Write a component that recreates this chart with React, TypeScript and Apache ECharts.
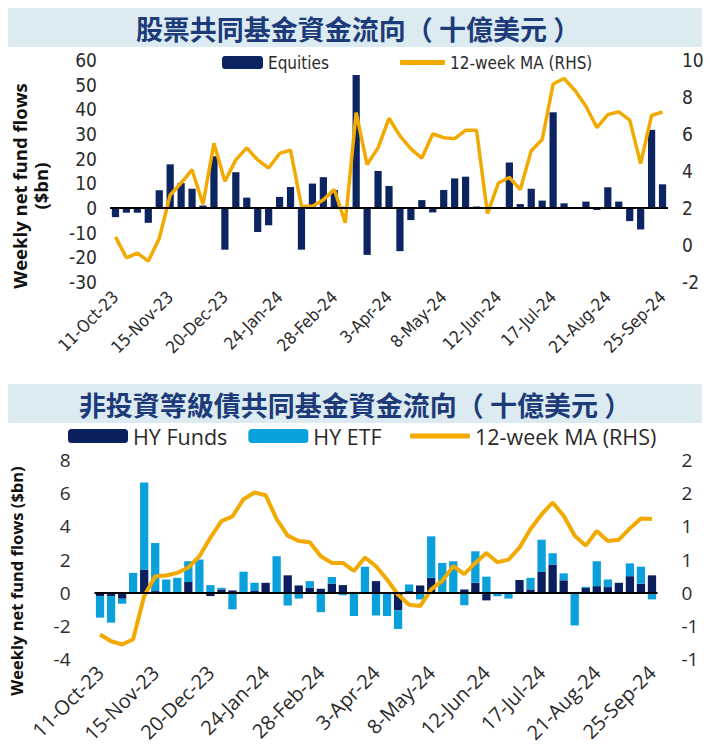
import React, { useEffect, useRef } from 'react';
import * as echarts from 'echarts';

const weeks = [
  '11-Oct-23', '18-Oct-23', '25-Oct-23', '1-Nov-23', '8-Nov-23', '15-Nov-23', '22-Nov-23', '29-Nov-23',
  '6-Dec-23', '13-Dec-23', '20-Dec-23', '27-Dec-23', '3-Jan-24', '10-Jan-24', '17-Jan-24', '24-Jan-24',
  '31-Jan-24', '7-Feb-24', '14-Feb-24', '21-Feb-24', '28-Feb-24', '6-Mar-24', '13-Mar-24', '20-Mar-24',
  '27-Mar-24', '3-Apr-24', '10-Apr-24', '17-Apr-24', '24-Apr-24', '1-May-24', '8-May-24', '15-May-24',
  '22-May-24', '29-May-24', '5-Jun-24', '12-Jun-24', '19-Jun-24', '26-Jun-24', '3-Jul-24', '10-Jul-24',
  '17-Jul-24', '24-Jul-24', '31-Jul-24', '7-Aug-24', '14-Aug-24', '21-Aug-24', '28-Aug-24', '4-Sep-24',
  '11-Sep-24', '18-Sep-24', '25-Sep-24',
];

const equityFlows = [
  -3.7, -1.9, -1.9, -6, 7.2, 17.7, 10.1, 7.8, 1.0, 21,
  -16.9, 14.5, 4.2, -9.7, -7, 4.5, 8.5, -16.9, 9.9, 12.5,
  7.3, 0.5, 53.9, -19, 15, 8.9, -17.5, -4.9, 3.2, -1.8,
  7.3, 12, 12.7, 0.6, 0.2, 0.3, 18.4, 1.6, 7.8, 3,
  38.8, 1.9, -0.4, 2.6, -0.8, 8.4, 2.6, -5.3, -8.7, 31.7, 9.6,
];

const equityMA = [
  0.44, -0.69, -0.44, -0.87, 0.35, 2.7, 3.35, 4.07, 2.2, 5.5,
  3.44, 4.6, 5.25, 4.6, 4.16, 4.95, 5.13, 2.1, 2.1, 2.44,
  3.0, 1.2, 7.16, 4.35, 5.25, 6.85, 5.9, 5.2, 4.7, 6.0,
  5.8, 5.75, 6.2, 6.2, 1.7, 3.35, 3.65, 3.0, 5.1, 5.7,
  8.7, 9.0, 8.35, 7.5, 6.35, 7.05, 7.2, 6.75, 4.4, 7.0, 7.2,
];

const hyFunds = [
  -0.2, -0.2, -0.36, 0.05, 1.4, 0.1, 0.05, 0.05, 0.65, 0.05,
  -0.2, 0.2, 0.14, 0.05, 0.1, 0.6, 0.02, 1.05, 0.44, 0.3,
  0.24, 0.55, 0.46, 0.05, -0.05, 0.7, -0.05, -1.05, 0.1, 0.44,
  0.9, 0.05, 0.05, 0.2, 0.6, -0.46, -0.05, 0.02, 0.77, 0.2,
  1.25, 1.7, 0.75, 0.02, 0.3, 0.4, 0.34, 0.6, 1.0, 0.55, 1.05,
];

const hyETF = [
  -1.3, -1.6, -0.3, 1.15, 5.25, 2.9, 0.75, 0.85, 1.25, 1.95,
  0.46, 0.1, -1.0, 1.22, 0.5, 0, 2.18, -0.77, -0.35, 0.4,
  -1.17, 0.4, -0.15, -1.4, 1.57, -1.37, -1.35, -1.13, 0.4, -0.4,
  2.5, 1.75, 1.85, -0.75, 1.9, 0.97, -0.16, -0.35, 0, 0.7,
  1.95, 0.68, 0.42, -1.97, 0.06, 1.5, 0.46, 0, 0.77, 1.02, -0.4,
];

const hyMA = [
  -0.63, -0.73, -0.78, -0.7, -0.05, 0.25, 0.26, 0.3, 0.38, 0.55,
  0.83, 1.08, 1.15, 1.41, 1.51, 1.47, 1.11, 0.86, 0.78, 0.76,
  0.55, 0.45, 0.45, 0.33, 0.53, 0.4, 0.2, -0.03, -0.18, -0.2,
  0.05, 0.18, 0.4, 0.28, 0.45, 0.6, 0.46, 0.5, 0.68, 0.96,
  1.18, 1.36, 1.16, 0.86, 0.71, 0.93, 0.78, 0.8, 0.97, 1.12, 1.11,
];

const hyRightTickLabels = ['-1', '-1', '0', '1', '1', '2', '2'];

const NAVY = '#0c2461';
const DARK_NAVY = '#0b1f5e';
const LIGHT_BLUE = '#0aa0dc';
const ORANGE = '#f2a900';
const NARROW = "'Liberation Sans Narrow', 'DejaVu Sans Condensed', sans-serif";
const SANS = "'Open Sans', 'Noto Sans', sans-serif";
const CJK = "'Noto Sans CJK TC', 'Noto Sans CJK SC', sans-serif";
const TITLE_COLOR = '#1c3b78';
const TEXT = '#2b2b2b';

export default function App() {
  const ref = useRef<HTMLDivElement>(null);

  useEffect(() => {
    document.body.style.margin = '0';
    const chart = echarts.init(ref.current as HTMLDivElement, null, { renderer: 'svg' });
    const zeroLine = {
      silent: true,
      symbol: ['none', 'none'],
      label: { show: false },
      lineStyle: { color: '#000', width: 2, type: 'solid' },
      data: [{ yAxis: 0 }],
    };
    const topLegendText = { fontFamily: NARROW, fontSize: 17, color: TEXT };
    const bottomLegendText = { fontFamily: SANS, fontSize: 21.5, color: TEXT };
    chart.setOption({
      animation: false,
      backgroundColor: '#ffffff',
      grid: [
        { left: 110, top: 60, width: 558, height: 222 },
        { left: 94.5, top: 460, width: 563, height: 200 },
      ],
      legend: [
        {
          data: ['Equities'],
          left: 222,
          top: 54,
          padding: 0,
          itemWidth: 41,
          itemHeight: 13,
          textStyle: topLegendText,
          selectedMode: false,
        },
        {
          data: [{ name: '12-week MA (RHS)', icon: 'roundRect' }],
          left: 400,
          top: 54,
          padding: 0,
          itemWidth: 45,
          itemHeight: 5,
          textStyle: topLegendText,
          selectedMode: false,
        },
        {
          data: ['HY Funds', 'HY ETF'],
          left: 68,
          top: 425,
          padding: 0,
          itemWidth: 60,
          itemHeight: 14,
          itemGap: 21,
          textStyle: bottomLegendText,
          selectedMode: false,
        },
        {
          data: [{ name: '12-week MA (RHS)', icon: 'roundRect' }],
          left: 410,
          top: 425,
          padding: 0,
          itemWidth: 60,
          itemHeight: 5,
          textStyle: bottomLegendText,
          selectedMode: false,
        },
      ],
      xAxis: [
        {
          type: 'category',
          gridIndex: 0,
          data: weeks,
          axisLine: { show: false },
          axisTick: { show: false },
          axisLabel: { interval: 4, rotate: 45, fontFamily: NARROW, fontSize: 17, color: TEXT, margin: 12 },
        },
        {
          type: 'category',
          gridIndex: 1,
          data: weeks,
          axisLine: { show: false },
          axisTick: { show: false },
          axisLabel: { interval: 4, rotate: 45, fontFamily: SANS, fontSize: 20, color: TEXT, margin: 10 },
        },
      ],
      yAxis: [
        {
          type: 'value',
          gridIndex: 0,
          min: -30,
          max: 60,
          interval: 10,
          splitLine: { show: false },
          axisLine: { show: false },
          axisTick: { show: false },
          axisLabel: { fontFamily: NARROW, fontSize: 19, color: TEXT, margin: 13 },
        },
        {
          type: 'value',
          gridIndex: 0,
          position: 'right',
          min: -2,
          max: 10,
          interval: 2,
          splitLine: { show: false },
          axisLine: { show: false },
          axisTick: { show: false },
          axisLabel: { fontFamily: NARROW, fontSize: 19, color: TEXT, margin: 14 },
        },
        {
          type: 'value',
          gridIndex: 1,
          min: -4,
          max: 8,
          interval: 2,
          splitLine: { show: false },
          axisLine: { show: false },
          axisTick: { show: false },
          axisLabel: { fontFamily: SANS, fontSize: 19, color: TEXT, margin: 24 },
        },
        {
          type: 'value',
          gridIndex: 1,
          position: 'right',
          min: -1,
          max: 2,
          interval: 0.5,
          splitLine: { show: false },
          axisLine: { show: false },
          axisTick: { show: false },
          axisLabel: {
            fontFamily: SANS,
            fontSize: 19,
            color: TEXT,
            margin: 24,
            formatter: (_v: number, i: number) => hyRightTickLabels[i],
          },
        },
      ],
      series: [
        {
          name: 'Equities',
          type: 'bar',
          xAxisIndex: 0,
          yAxisIndex: 0,
          data: equityFlows,
          barWidth: '66%',
          itemStyle: { color: NAVY },
          markLine: zeroLine,
        },
        {
          name: '12-week MA (RHS)',
          type: 'line',
          xAxisIndex: 0,
          yAxisIndex: 1,
          data: equityMA,
          symbol: 'none',
          lineStyle: { color: ORANGE, width: 3.5 },
          itemStyle: { color: ORANGE },
          z: 3,
        },
        {
          name: 'HY Funds',
          type: 'bar',
          xAxisIndex: 1,
          yAxisIndex: 2,
          stack: 'hy',
          data: hyFunds,
          barWidth: '75%',
          itemStyle: { color: DARK_NAVY },
        },
        {
          name: 'HY ETF',
          type: 'bar',
          xAxisIndex: 1,
          yAxisIndex: 2,
          stack: 'hy',
          data: hyETF,
          barWidth: '75%',
          itemStyle: { color: LIGHT_BLUE },
          markLine: zeroLine,
        },
        {
          name: '12-week MA (RHS)',
          type: 'line',
          xAxisIndex: 1,
          yAxisIndex: 3,
          data: hyMA,
          symbol: 'none',
          lineStyle: { color: ORANGE, width: 4 },
          itemStyle: { color: ORANGE },
          z: 3,
        },
      ],
      graphic: [
        { type: 'rect', silent: true, shape: { x: 8, y: 8, width: 694, height: 39 }, style: { fill: '#dcebf1' } },
        {
          type: 'text',
          silent: true,
          x: 358,
          y: 28,
          style: {
            text: '股票共同基金資金流向（ 十億美元 ）',
            fontFamily: CJK,
            fontSize: 27,
            fontWeight: 'bold',
            fill: TITLE_COLOR,
            align: 'center',
            verticalAlign: 'middle',
          },
        },
        { type: 'rect', silent: true, shape: { x: 8, y: 384, width: 694, height: 39 }, style: { fill: '#dcebf1' } },
        {
          type: 'text',
          silent: true,
          x: 355,
          y: 404,
          style: {
            text: '非投資等級債共同基金資金流向（ 十億美元 ）',
            fontFamily: CJK,
            fontSize: 27,
            fontWeight: 'bold',
            fill: TITLE_COLOR,
            align: 'center',
            verticalAlign: 'middle',
          },
        },
        {
          type: 'text',
          silent: true,
          x: 30,
          y: 186,
          rotation: Math.PI / 2,
          style: {
            text: 'Weekly net fund flows\n($bn)',
            fontFamily: SANS,
            fontSize: 18.5,
            fontWeight: 'bold',
            lineHeight: 21,
            fill: '#111',
            align: 'center',
            verticalAlign: 'middle',
          },
        },
        {
          type: 'text',
          silent: true,
          x: 16,
          y: 581,
          rotation: Math.PI / 2,
          style: {
            text: 'Weekly net fund flows ($bn)',
            fontFamily: SANS,
            fontSize: 16.5,
            fontWeight: 'bold',
            fill: '#111',
            align: 'center',
            verticalAlign: 'middle',
          },
        },
      ],
    });
    return () => chart.dispose();
  }, []);

  return <div ref={ref} style={{ width: 710, height: 746 }} />;
}
